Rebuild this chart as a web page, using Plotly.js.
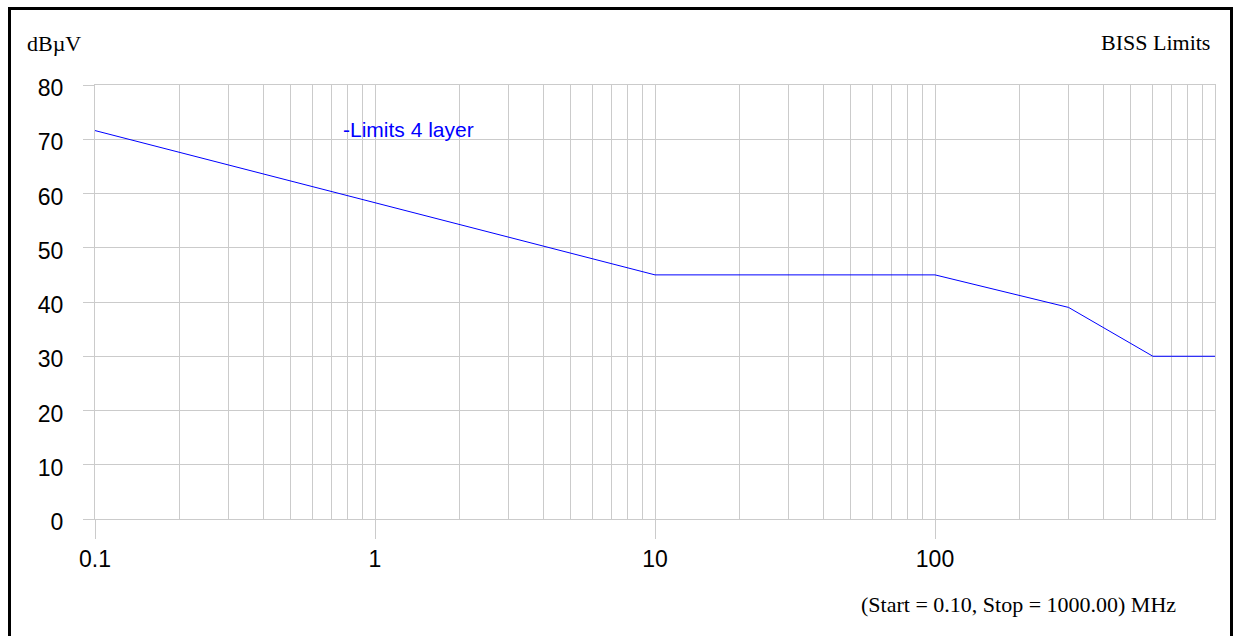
<!DOCTYPE html>
<html>
<head>
<meta charset="utf-8">
<script src="https://cdn.plot.ly/plotly-3.0.1.min.js"></script>
<style>
  html, body { margin: 0; padding: 0; background: #fff; }
  #wrap { position: relative; width: 1236px; height: 636px; overflow: hidden; }
  #chart { position: absolute; left: 0; top: 0; width: 1236px; height: 636px; }
  #frame { position: absolute; left: 8px; top: 7px; width: 1219px; height: 700px;
           border: 3px solid #000; pointer-events: none; }
</style>
</head>
<body>
<div id="wrap">
  <div id="chart"></div>
  <div id="frame"></div>
</div>
<script>
// ---- data ----
const freqMHz = [0.1, 10, 100, 300, 600, 1000];
const limit4Layer = [71.6, 45, 45, 39, 30, 30];
const seriesName = "-Limits 4 layer";

// ---- axis labels ----
const xMajorTicks = [0.1, 1, 10, 100];
const xMajorLabels = ["0.1", "1", "10", "100"];
const xDecades = [0.1, 1, 10, 100];
const xMinorDigits = [2, 3, 4, 5, 6, 7, 8, 9];
const yTicks = [0, 10, 20, 30, 40, 50, 60, 70, 80];
const yUnit = "dBµV";
const chartTitle = "BISS Limits";
const rangeNote = "(Start = 0.10, Stop = 1000.00) MHz";

const xMinorTicks = [];
xDecades.forEach(d => xMinorDigits.forEach(m => xMinorTicks.push(+(d * m).toPrecision(3))));

const gridColor = "#cbcbcb";
const sans = "Liberation Sans, Arial, sans-serif";
const serif = "Liberation Serif, Times New Roman, serif";

const trace = {
  x: freqMHz,
  y: limit4Layer,
  type: "scatter",
  mode: "lines",
  name: seriesName,
  line: { color: "#0000ff", width: 1 },
  showlegend: false,
  hoverinfo: "x+y"
};

const layout = {
  width: 1236,
  height: 636,
  margin: { l: 95, r: 21, t: 85, b: 117 },
  paper_bgcolor: "#ffffff",
  plot_bgcolor: "#ffffff",
  showlegend: false,
  xaxis: {
    type: "log",
    range: [-1, 3],
    tickmode: "array",
    tickvals: xMajorTicks,
    ticktext: xMajorLabels,
    ticks: "outside",
    ticklen: 19,
    tickwidth: 1,
    tickcolor: gridColor,
    showgrid: true,
    gridcolor: gridColor,
    gridwidth: 1,
    zeroline: false,
    showline: true,
    linecolor: gridColor,
    linewidth: 1,
    mirror: true,
    tickfont: { family: sans, size: 23, color: "#000" },
    minor: {
      tickmode: "array",
      tickvals: xMinorTicks,
      showgrid: true,
      gridcolor: gridColor,
      gridwidth: 1,
      ticks: ""
    }
  },
  yaxis: {
    range: [0, 80],
    tickmode: "array",
    tickvals: yTicks,
    ticks: "outside",
    ticklen: 11,
    tickwidth: 1,
    tickcolor: gridColor,
    showgrid: true,
    gridcolor: gridColor,
    gridwidth: 1,
    zeroline: false,
    showline: true,
    linecolor: gridColor,
    linewidth: 1,
    mirror: true,
    ticklabelstandoff: 15,
    ticklabelshift: 3,
    tickfont: { family: sans, size: 23, color: "#000" }
  },
  annotations: [
    { text: yUnit, xref: "paper", yref: "paper", x: -0.0625, y: 1.0945,
      xanchor: "left", yanchor: "middle", showarrow: false,
      font: { family: serif, size: 22, color: "#000" } },
    { text: chartTitle, xref: "paper", yref: "paper", x: 0.9973, y: 1.0968,
      xanchor: "right", yanchor: "middle", showarrow: false,
      font: { family: serif, size: 22, color: "#000" } },
    { text: rangeNote, xref: "paper", yref: "paper", x: 0.967, y: -0.196,
      xanchor: "right", yanchor: "middle", showarrow: false,
      font: { family: serif, size: 22, color: "#000" } },
    { text: seriesName, xref: "paper", yref: "paper", x: 0.2195, y: 0.8986,
      xanchor: "left", yanchor: "middle", showarrow: false,
      font: { family: sans, size: 21, color: "#0000ff" } }
  ]
};

Plotly.newPlot("chart", [trace], layout, { displayModeBar: false, staticPlot: true });
</script>
</body>
</html>
